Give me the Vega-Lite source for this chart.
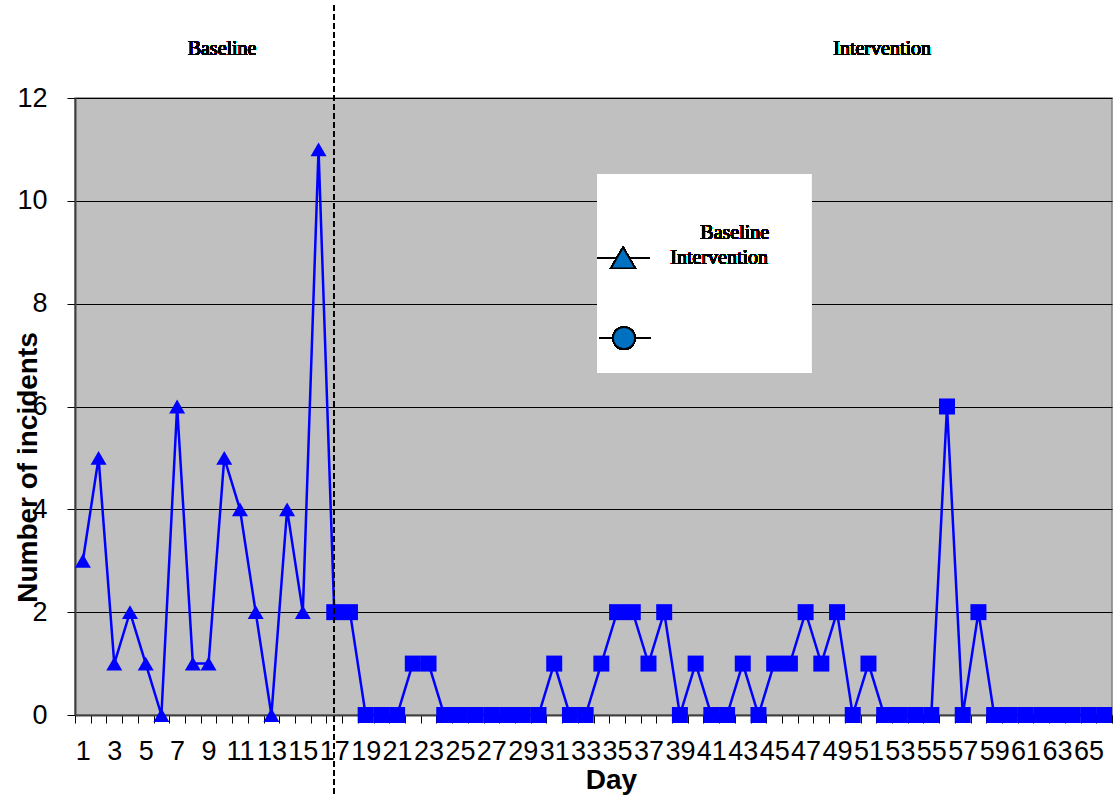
{
  "$schema": "https://vega.github.io/schema/vega-lite/v6.json",
  "width": 1037,
  "height": 617,
  "autosize": "none",
  "padding": {"left": 75, "top": 98, "right": 1, "bottom": 81},
  "background": "white",
  "config": {
    "view": {"fill": "#C0C0C0", "stroke": "#808080", "strokeWidth": 1.5},
    "font": "Liberation Sans",
    "axis": {"labelOverlap": false, "labelFlush": false, "labelBound": false}
  },
  "data": {"values": [
    {"day": 1, "incidents": 3, "phase": "Baseline"},
    {"day": 2, "incidents": 5, "phase": "Baseline"},
    {"day": 3, "incidents": 1, "phase": "Baseline"},
    {"day": 4, "incidents": 2, "phase": "Baseline"},
    {"day": 5, "incidents": 1, "phase": "Baseline"},
    {"day": 6, "incidents": 0, "phase": "Baseline"},
    {"day": 7, "incidents": 6, "phase": "Baseline"},
    {"day": 8, "incidents": 1, "phase": "Baseline"},
    {"day": 9, "incidents": 1, "phase": "Baseline"},
    {"day": 10, "incidents": 5, "phase": "Baseline"},
    {"day": 11, "incidents": 4, "phase": "Baseline"},
    {"day": 12, "incidents": 2, "phase": "Baseline"},
    {"day": 13, "incidents": 0, "phase": "Baseline"},
    {"day": 14, "incidents": 4, "phase": "Baseline"},
    {"day": 15, "incidents": 2, "phase": "Baseline"},
    {"day": 16, "incidents": 11, "phase": "Baseline"},
    {"day": 17, "incidents": 2, "phase": "Intervention"},
    {"day": 18, "incidents": 2, "phase": "Intervention"},
    {"day": 19, "incidents": 0, "phase": "Intervention"},
    {"day": 20, "incidents": 0, "phase": "Intervention"},
    {"day": 21, "incidents": 0, "phase": "Intervention"},
    {"day": 22, "incidents": 1, "phase": "Intervention"},
    {"day": 23, "incidents": 1, "phase": "Intervention"},
    {"day": 24, "incidents": 0, "phase": "Intervention"},
    {"day": 25, "incidents": 0, "phase": "Intervention"},
    {"day": 26, "incidents": 0, "phase": "Intervention"},
    {"day": 27, "incidents": 0, "phase": "Intervention"},
    {"day": 28, "incidents": 0, "phase": "Intervention"},
    {"day": 29, "incidents": 0, "phase": "Intervention"},
    {"day": 30, "incidents": 0, "phase": "Intervention"},
    {"day": 31, "incidents": 1, "phase": "Intervention"},
    {"day": 32, "incidents": 0, "phase": "Intervention"},
    {"day": 33, "incidents": 0, "phase": "Intervention"},
    {"day": 34, "incidents": 1, "phase": "Intervention"},
    {"day": 35, "incidents": 2, "phase": "Intervention"},
    {"day": 36, "incidents": 2, "phase": "Intervention"},
    {"day": 37, "incidents": 1, "phase": "Intervention"},
    {"day": 38, "incidents": 2, "phase": "Intervention"},
    {"day": 39, "incidents": 0, "phase": "Intervention"},
    {"day": 40, "incidents": 1, "phase": "Intervention"},
    {"day": 41, "incidents": 0, "phase": "Intervention"},
    {"day": 42, "incidents": 0, "phase": "Intervention"},
    {"day": 43, "incidents": 1, "phase": "Intervention"},
    {"day": 44, "incidents": 0, "phase": "Intervention"},
    {"day": 45, "incidents": 1, "phase": "Intervention"},
    {"day": 46, "incidents": 1, "phase": "Intervention"},
    {"day": 47, "incidents": 2, "phase": "Intervention"},
    {"day": 48, "incidents": 1, "phase": "Intervention"},
    {"day": 49, "incidents": 2, "phase": "Intervention"},
    {"day": 50, "incidents": 0, "phase": "Intervention"},
    {"day": 51, "incidents": 1, "phase": "Intervention"},
    {"day": 52, "incidents": 0, "phase": "Intervention"},
    {"day": 53, "incidents": 0, "phase": "Intervention"},
    {"day": 54, "incidents": 0, "phase": "Intervention"},
    {"day": 55, "incidents": 0, "phase": "Intervention"},
    {"day": 56, "incidents": 6, "phase": "Intervention"},
    {"day": 57, "incidents": 0, "phase": "Intervention"},
    {"day": 58, "incidents": 2, "phase": "Intervention"},
    {"day": 59, "incidents": 0, "phase": "Intervention"},
    {"day": 60, "incidents": 0, "phase": "Intervention"},
    {"day": 61, "incidents": 0, "phase": "Intervention"},
    {"day": 62, "incidents": 0, "phase": "Intervention"},
    {"day": 63, "incidents": 0, "phase": "Intervention"},
    {"day": 64, "incidents": 0, "phase": "Intervention"},
    {"day": 65, "incidents": 0, "phase": "Intervention"},
    {"day": 66, "incidents": 0, "phase": "Intervention"}
  ]},
  "layer": [
    {
      "mark": {"type": "line", "color": "#0000FF", "strokeWidth": 2.5},
      "encoding": {
        "x": {
          "field": "day", "type": "quantitative",
          "scale": {"domain": [0.5, 66.5], "nice": false, "zero": false},
          "axis": {
            "title": "Day",
            "titleFont": "Liberation Sans", "titleFontSize": 28, "titleFontWeight": "bold", "titleColor": "black",
            "titleX": 536, "titleY": 51,
            "values": [0.5,1.5,2.5,3.5,4.5,5.5,6.5,7.5,8.5,9.5,10.5,11.5,12.5,13.5,14.5,15.5,16.5,17.5,18.5,19.5,20.5,21.5,22.5,23.5,24.5,25.5,26.5,27.5,28.5,29.5,30.5,31.5,32.5,33.5,34.5,35.5,36.5,37.5,38.5,39.5,40.5,41.5,42.5,43.5,44.5,45.5,46.5,47.5,48.5,49.5,50.5,51.5,52.5,53.5,54.5,55.5,56.5,57.5,58.5,59.5,60.5,61.5,62.5,63.5,64.5,65.5,66.5],
            "tickCount": 200,
            "labelExpr": "((datum.value - 0.5) % 2 == 0 && datum.value < 66) ? format(datum.value + 0.5, 'd') : ''",
            "labelOffset": 7.85,
            "labelFont": "Liberation Sans", "labelFontSize": 27, "labelColor": "black",
            "labelOverlap": false, "labelFlush": false, "labelBound": false,
            "labelPadding": 15,
            "tickSize": 8, "tickColor": "black", "tickWidth": 1,
            "domainColor": "#404040", "domainWidth": 2,
            "grid": false
          }
        },
        "y": {
          "field": "incidents", "type": "quantitative",
          "scale": {"domain": [0, 12], "nice": false},
          "axis": {
            "title": "Number of incidents",
            "titleFont": "Liberation Sans", "titleFontSize": 28, "titleFontWeight": "bold", "titleColor": "black",
            "titleX": -47, "titleY": 369, "titleBaseline": "middle", "titleAngle": -90,
            "values": [0, 2, 4, 6, 8, 10, 12],
            "format": "d",
            "labelFont": "Liberation Sans", "labelFontSize": 27, "labelColor": "black",
            "labelPadding": 20,
            "tickSize": 8, "tickColor": "black",
            "domainColor": "#404040", "domainWidth": 2,
            "grid": true, "gridColor": "black", "gridWidth": 1.2
          }
        }
      }
    },
    {
      "mark": {"type": "point", "filled": true, "color": "#0000FF", "opacity": 1, "size": 256},
      "encoding": {
        "x": {"field": "day", "type": "quantitative"},
        "y": {"field": "incidents", "type": "quantitative"},
        "shape": {"field": "phase", "type": "nominal", "scale": {"domain": ["Baseline", "Intervention"], "range": ["triangle-up", "square"]}, "legend": null}
      }
    },
    {
      "mark": {"type": "rule", "color": "black", "strokeDash": [5, 4], "strokeWidth": 1.5, "clip": false},
      "encoding": {
        "x": {"datum": 17, "type": "quantitative"},
        "y": {"datum": 13.8, "type": "quantitative"},
        "y2": {"datum": -1.6}
      }
    },
    {
      "mark": {"type": "text", "font": "Liberation Serif", "fontSize": 20, "color": "black", "baseline": "middle", "align": "center"},
      "encoding": {
        "x": {"datum": 9.86, "type": "quantitative"},
        "y": {"datum": 12.95, "type": "quantitative"},
        "text": {"value": "Baseline"}
      }
    },
    {
      "mark": {"type": "text", "font": "Liberation Serif", "fontSize": 20, "color": "black", "baseline": "middle", "align": "center"},
      "encoding": {
        "x": {"datum": 51.87, "type": "quantitative"},
        "y": {"datum": 12.95, "type": "quantitative"},
        "text": {"value": "Intervention"}
      }
    },
    {
      "mark": {"type": "rect", "fill": "white"},
      "encoding": {
        "x": {"datum": 33.73, "type": "quantitative"},
        "x2": {"datum": 47.35},
        "y": {"datum": 10.52, "type": "quantitative"},
        "y2": {"datum": 6.65}
      }
    },
    {
      "mark": {"type": "rule", "color": "black", "strokeWidth": 1.5},
      "encoding": {
        "x": {"datum": 33.73, "type": "quantitative"},
        "x2": {"datum": 37.04},
        "y": {"datum": 8.89, "type": "quantitative"}
      }
    },
    {
      "mark": {"type": "rule", "color": "black", "strokeWidth": 1.5},
      "encoding": {
        "x": {"datum": 33.85, "type": "quantitative"},
        "x2": {"datum": 37.1},
        "y": {"datum": 7.33, "type": "quantitative"}
      }
    },
    {
      "mark": {"type": "point", "shape": "triangle-up", "filled": true, "fill": "#0070C0", "stroke": "black", "strokeWidth": 1.5, "opacity": 1, "size": 576},
      "encoding": {
        "x": {"datum": 35.38, "type": "quantitative"},
        "y": {"datum": 8.89, "type": "quantitative"}
      }
    },
    {
      "mark": {"type": "point", "shape": "circle", "filled": true, "fill": "#0070C0", "stroke": "black", "strokeWidth": 1.5, "opacity": 1, "size": 480},
      "encoding": {
        "x": {"datum": 35.44, "type": "quantitative"},
        "y": {"datum": 7.33, "type": "quantitative"}
      }
    },
    {
      "mark": {"type": "text", "font": "Liberation Serif", "fontSize": 20, "color": "black", "baseline": "middle", "align": "right"},
      "encoding": {
        "x": {"datum": 44.68, "type": "quantitative"},
        "y": {"datum": 9.37, "type": "quantitative"},
        "text": {"value": "Baseline"}
      }
    },
    {
      "mark": {"type": "text", "font": "Liberation Serif", "fontSize": 20, "color": "black", "baseline": "middle", "align": "right"},
      "encoding": {
        "x": {"datum": 44.61, "type": "quantitative"},
        "y": {"datum": 8.89, "type": "quantitative"},
        "text": {"value": "Intervention"}
      }
    }
  ]
}
